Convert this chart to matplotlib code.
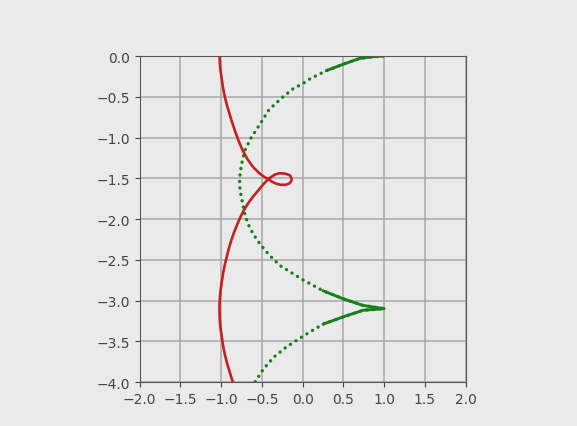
import numpy as np
import matplotlib
matplotlib.use("Agg")
import matplotlib.pyplot as plt

# --- curve points (x, y) ---
red_x = [-1.03, -1.02, -1.015, -1.005, -0.99, -0.975, -0.955, -0.93, -0.90, -0.87,
         -0.83, -0.79, -0.74, -0.68, -0.61, -0.53, -0.46, -0.42,
         -0.38, -0.33, -0.27, -0.21, -0.165, -0.14, -0.135, -0.15, -0.19, -0.24,
         -0.29, -0.34, -0.38, -0.42,
         -0.47, -0.52, -0.57, -0.62, -0.67, -0.72, -0.76, -0.80, -0.84, -0.875,
         -0.905, -0.93, -0.955, -0.975, -0.99, -1.005, -1.015, -1.02, -1.02, -1.015,
         -1.005, -0.99, -0.975, -0.955, -0.93, -0.90, -0.87, -0.855, -0.84]
red_y = [0.05, 0.0, -0.10, -0.20, -0.30, -0.40, -0.50, -0.60, -0.70, -0.80,
         -0.92, -1.03, -1.15, -1.26, -1.36, -1.44, -1.49, -1.51,
         -1.54, -1.565, -1.58, -1.58, -1.565, -1.535, -1.505, -1.47, -1.45, -1.44,
         -1.44, -1.455, -1.48, -1.51,
         -1.56, -1.62, -1.68, -1.74, -1.81, -1.89, -1.97, -2.06, -2.16, -2.26,
         -2.36, -2.46, -2.56, -2.66, -2.76, -2.86, -2.96, -3.06, -3.16, -3.26,
         -3.36, -3.46, -3.56, -3.66, -3.76, -3.86, -3.96, -4.00, -4.05]

green_x = [0.99, 0.85, 0.70, 0.50, 0.29, 0.09, 0.0, -0.115, -0.24, -0.36,
           -0.42, -0.52, -0.63, -0.71, -0.75, -0.77, -0.775, -0.76, -0.73, -0.71,
           -0.67, -0.61, -0.52, -0.42, -0.28, -0.135, 0.01, 0.25, 0.50, 0.74,
           1.0, 0.74, 0.50, 0.25, 0.05, -0.20, -0.36, -0.48, -0.585, -0.66]
green_y = [0.0, -0.01, -0.03, -0.10, -0.18, -0.28, -0.34, -0.40, -0.50, -0.61,
           -0.67, -0.83, -1.00, -1.16, -1.33, -1.47, -1.58, -1.69, -1.84, -1.94,
           -2.06, -2.18, -2.31, -2.43, -2.57, -2.66, -2.75, -2.88, -2.98, -3.06,
           -3.10, -3.12, -3.20, -3.29, -3.41, -3.57, -3.70, -3.84, -4.00, -4.10]

bg = "#eaeaea"
red = "#c81e1e"
green = "#17801a"

fig = plt.figure(figsize=(5.77, 4.27), dpi=100, facecolor=bg)
ax = fig.add_axes([0.242, 0.103, 0.565, 0.7635])
ax.set_facecolor(bg)

ax.plot(red_x, red_y, color=red, lw=1.9, solid_joinstyle="round")
ax.plot(green_x, green_y, color=green, lw=2.4,
        linestyle=(0, (0.05, 1.9)), dash_capstyle="round")
# dots crowd together near the cusps, so those stretches read as solid
ax.plot(green_x[:5], green_y[:5], color=green, lw=2.1, solid_capstyle="round")
ax.plot(green_x[27:34], green_y[27:34], color=green, lw=2.1, solid_capstyle="round")

ax.set_xlim(-2, 2)
ax.set_ylim(-4, 0)
ax.set_xticks(np.arange(-2, 2.01, 0.5))
ax.set_yticks(np.arange(-4, 0.01, 0.5))
ax.grid(True, color="#a8a8a8", lw=1.1)
ax.set_axisbelow(True)
for s in ax.spines.values():
    s.set_color("#555555")
ax.tick_params(colors="#444444", labelsize=10)

plt.savefig("out.png", dpi=100, facecolor=bg)
